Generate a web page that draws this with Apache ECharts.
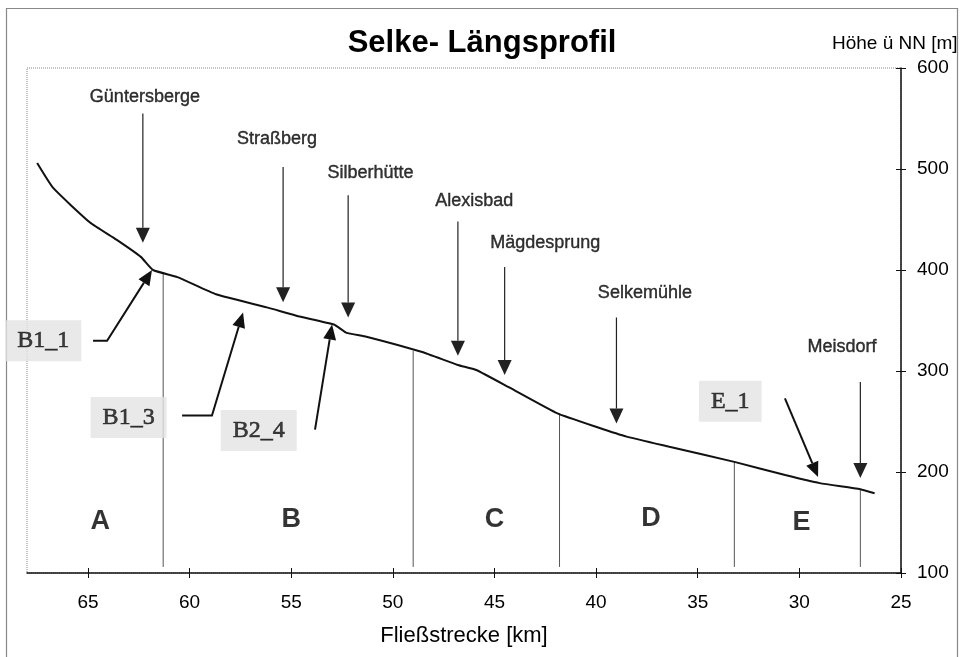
<!DOCTYPE html>
<html>
<head>
<meta charset="utf-8">
<script src="https://cdn.jsdelivr.net/npm/echarts@6/dist/echarts.min.js"></script>
<style>
html,body{margin:0;padding:0;background:#fff;}
#chart{width:964px;height:657px;}
</style>
</head>
<body>
<div id="chart"></div>
<script>
// ---- data ----
const xTicks = [25, 30, 35, 40, 45, 50, 55, 60, 65];
const yTicks = [100, 200, 300, 400, 500, 600];

const profileKm = [67.5, 66.7, 64.9, 63.6, 62.4, 61.8, 60.6, 58.7, 56.2, 54.6, 52.9, 52.3, 51.3, 48.6, 46.8, 45.9, 44.3, 41.9, 39.9, 38.5, 36.4, 33.2, 30.7, 29.0, 27.0, 26.3];
const profileH  = [506, 481, 447, 430, 413, 400, 393, 376, 363, 354, 346, 338, 334, 319, 306, 301, 284, 258, 244, 235, 225, 210, 197, 189, 183, 179];

const sectionKm = [61.3, 49.0, 41.8, 33.2, 27.0];
const sectionTopH = [398, 320, 258, 210, 182];
const sectionBottomH = 106;
const sectionNames = ['A', 'B', 'C', 'D', 'E'];
const sectionLabelKm = [64.4, 55.0, 45.0, 37.3, 29.9];
const sectionLabelH = [151, 153, 153, 154, 150];

const towns = ['Güntersberge', 'Straßberg', 'Silberhütte', 'Alexisbad', 'Mägdesprung', 'Selkemühle', 'Meisdorf'];
const townLabelKm = [62.2, 55.7, 51.1, 46.0, 42.5, 37.6, 27.9];
const townLabelH = [571, 530, 496, 468, 427, 377, 324];
const townArrowKm = [62.3, 55.4, 52.2, 46.8, 44.5, 39.0, 27.0];
const townArrowTopH = [555, 502, 474, 448, 403, 353, 289];
const townArrowTipH = [427, 368, 353, 315, 296, 248, 194];

const stations = ['B1_1', 'B1_3', 'B2_4', 'E_1'];
const stationLabelKm = [67.2, 63.0, 56.6, 33.4];
const stationLabelH = [330, 254, 241, 270];
const stationArrowStartKm = [64.75, 60.37, 53.83, 30.71];
const stationArrowElbowKm = [64.06, 58.90, 53.83, 30.71];
const stationArrowStartH = [330, 256, 242, 273];
const stationArrowTipKm = [61.85, 57.37, 52.99, 29.08];
const stationArrowTipH = [400, 358, 346, 195];

// ---- build ----
const SANS = '"Liberation Sans", Arial, sans-serif';
const SERIF = '"Liberation Serif", "Times New Roman", serif';

const profileData = profileKm.map((k, i) => [k, profileH[i]]);
const sectionData = sectionKm.map((k, i) => [k, sectionTopH[i], sectionBottomH]);
const sectionLabelData = sectionNames.map((n, i) => ({ name: n, value: [sectionLabelKm[i], sectionLabelH[i]] }));
const townLabelData = towns.map((n, i) => ({ name: n, value: [townLabelKm[i], townLabelH[i]] }));
const townArrowData = towns.map((n, i) => [townArrowKm[i], townArrowTopH[i], townArrowKm[i], townArrowTopH[i], townArrowKm[i], townArrowTipH[i]]);
const stationLabelData = stations.map((n, i) => ({ name: n, value: [stationLabelKm[i], stationLabelH[i]] }));
const stationArrowData = stations.map((n, i) => [stationArrowStartKm[i], stationArrowStartH[i], stationArrowElbowKm[i], stationArrowStartH[i], stationArrowTipKm[i], stationArrowTipH[i]]);

function arrowRenderer(lineWidth, headLen, headW, color) {
  return function (params, api) {
    const a = api.coord([api.value(0), api.value(1)]);
    const b = api.coord([api.value(2), api.value(3)]);
    const c = api.coord([api.value(4), api.value(5)]);
    let dx = c[0] - b[0], dy = c[1] - b[1];
    const len = Math.sqrt(dx * dx + dy * dy) || 1;
    dx /= len; dy /= len;
    const base = [c[0] - dx * headLen, c[1] - dy * headLen];
    const nx = -dy, ny = dx;
    const pts = [];
    if (Math.abs(a[0] - b[0]) > 0.5 || Math.abs(a[1] - b[1]) > 0.5) pts.push(a);
    pts.push(b, base);
    return {
      type: 'group',
      children: [
        { type: 'polyline', shape: { points: pts }, style: { stroke: color, lineWidth: lineWidth, fill: null } },
        { type: 'polygon', shape: { points: [c, [base[0] + nx * headW / 2, base[1] + ny * headW / 2], [base[0] - nx * headW / 2, base[1] - ny * headW / 2]] }, style: { fill: color } }
      ]
    };
  };
}

const chart = echarts.init(document.getElementById('chart'));
const option = {
  backgroundColor: '#fff',
  animation: false,
  grid: { left: 27, right: 63, top: 68, bottom: 84, show: true, borderColor: '#8a8a8a', borderWidth: 1, borderType: 'dotted' },
  graphic: [
    { type: 'rect', shape: { x: 6.5, y: 8.5, width: 951, height: 660 }, style: { fill: null, stroke: '#888', lineWidth: 1.2 }, z: -1 },
    { type: 'text', x: 482, y: 43, style: { text: 'Selke- Längsprofil', font: 'bold 31px ' + SANS, fill: '#000', textAlign: 'center', textVerticalAlign: 'middle' } },
    { type: 'text', x: 832, y: 44, style: { text: 'Höhe ü NN [m]', font: '19px ' + SANS, fill: '#000', textAlign: 'left', textVerticalAlign: 'middle' } }
  ],
  xAxis: [
    {
      type: 'value', min: 25, max: 68, inverse: true, interval: 5,
      name: 'Fließstrecke [km]', nameLocation: 'middle', nameGap: 52,
      nameTextStyle: { fontFamily: SANS, fontSize: 22, color: '#000' },
      axisLine: { show: true, lineStyle: { color: '#111', width: 1.5 } },
      axisTick: { show: true, inside: false, length: 5, customValues: xTicks, lineStyle: { color: '#111', width: 1 } },
      axisLabel: { show: true, customValues: xTicks, margin: 20, fontFamily: SANS, fontSize: 19, color: '#000' },
      splitLine: { show: false }
    },
    {
      type: 'value', min: 25, max: 68, inverse: true, interval: 5, position: 'bottom',
      axisLine: { show: false },
      axisTick: { show: true, inside: true, length: 5, customValues: xTicks, lineStyle: { color: '#111', width: 1 } },
      axisLabel: { show: false },
      splitLine: { show: false }
    }
  ],
  yAxis: [
    {
      type: 'value', min: 100, max: 600, interval: 100, position: 'right',
      axisLine: { show: true, lineStyle: { color: '#111', width: 1.5 } },
      axisTick: { show: true, inside: false, length: 5, lineStyle: { color: '#111', width: 1 } },
      axisLabel: { show: true, margin: 16, fontFamily: SANS, fontSize: 19, color: '#000' },
      splitLine: { show: false }
    },
    {
      type: 'value', min: 100, max: 600, interval: 100, position: 'right',
      axisLine: { show: false },
      axisTick: { show: true, inside: true, length: 5, lineStyle: { color: '#111', width: 1 } },
      axisLabel: { show: false },
      splitLine: { show: false }
    }
  ],
  series: [
    {
      type: 'line', xAxisIndex: 0, yAxisIndex: 0, data: profileData, smooth: 0.15,
      symbol: 'none', lineStyle: { color: '#111', width: 2 }, z: 5
    },
    {
      type: 'custom', xAxisIndex: 0, yAxisIndex: 0, data: sectionData,
      renderItem: function (params, api) {
        const t = api.coord([api.value(0), api.value(1)]);
        const b = api.coord([api.value(0), api.value(2)]);
        return { type: 'line', shape: { x1: t[0], y1: t[1], x2: b[0], y2: b[1] }, style: { stroke: '#555', lineWidth: 1 } };
      }, z: 3
    },
    {
      type: 'custom', xAxisIndex: 0, yAxisIndex: 0, data: townArrowData,
      renderItem: arrowRenderer(1.2, 15, 14, '#222'), z: 4
    },
    {
      type: 'custom', xAxisIndex: 0, yAxisIndex: 0, data: stationArrowData,
      renderItem: arrowRenderer(2, 15, 13, '#111'), z: 4
    },
    {
      type: 'scatter', xAxisIndex: 0, yAxisIndex: 0, data: townLabelData, symbolSize: 0,
      label: { show: true, position: 'inside', formatter: '{b}', fontFamily: SANS, fontSize: 18, color: '#000',
        textBorderColor: '#000', textBorderWidth: 0.4 }, z: 6
    },
    {
      type: 'scatter', xAxisIndex: 0, yAxisIndex: 0, data: sectionLabelData, symbolSize: 0,
      label: { show: true, position: 'inside', formatter: '{b}', fontFamily: SANS, fontWeight: 'bold', fontSize: 27, color: '#000' }, z: 6
    },
    {
      type: 'scatter', xAxisIndex: 0, yAxisIndex: 0, data: stationLabelData, symbolSize: 0,
      label: { show: true, position: 'inside', formatter: '{b}', fontFamily: SERIF, fontSize: 24, color: '#111',
        textBorderColor: '#111', textBorderWidth: 0.6,
        backgroundColor: '#e3e3e3', padding: [9, 12, 8, 12] }, z: 6
    }
  ]
};
chart.setOption(option);
</script>
</body>
</html>
